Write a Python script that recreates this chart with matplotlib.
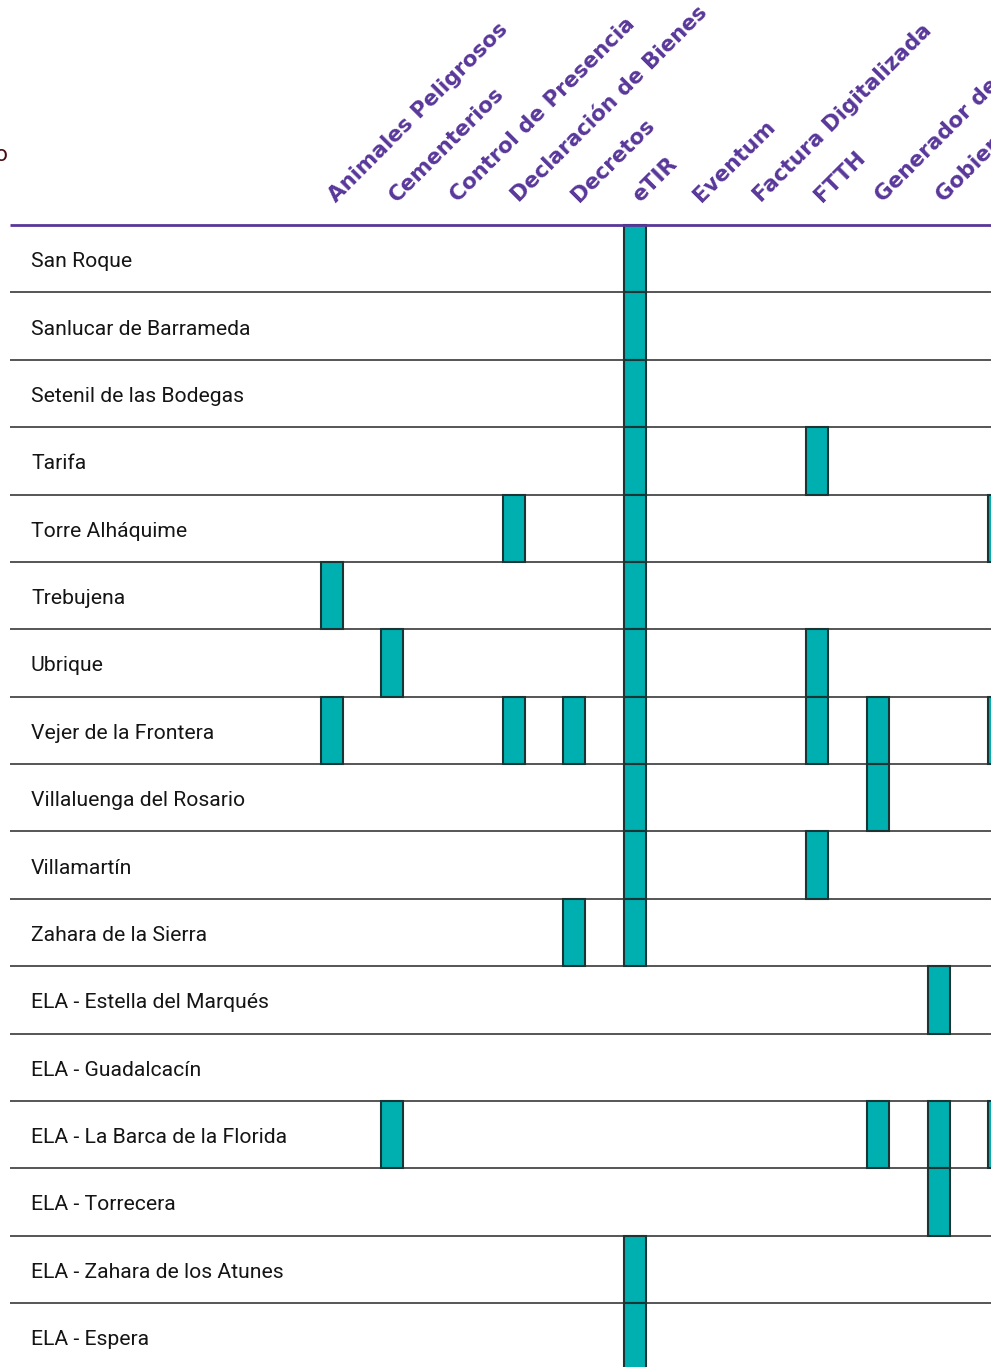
import matplotlib
matplotlib.use('Agg')
import matplotlib.pyplot as plt

# columns (header labels) - last ones are cut off in the reference
servicios = ['Animales Peligrosos', 'Cementerios', 'Control de Presencia',
             'Declaración de Bienes', 'Decretos', 'eTIR', 'Eventum',
             'Factura Digitalizada', 'FTTH', 'Generador de Documentos',
             'Gobierno Abierto', 'Inventario']

municipios = ['San Roque', 'Sanlucar de Barrameda', 'Setenil de las Bodegas',
              'Tarifa', 'Torre Alháquime', 'Trebujena', 'Ubrique',
              'Vejer de la Frontera', 'Villaluenga del Rosario', 'Villamartín',
              'Zahara de la Sierra', 'ELA - Estella del Marqués',
              'ELA - Guadalcacín', 'ELA - La Barca de la Florida',
              'ELA - Torrecera', 'ELA - Zahara de los Atunes', 'ELA - Espera']

# services in use per municipio
usos = {
    'San Roque': ['eTIR'],
    'Sanlucar de Barrameda': ['eTIR'],
    'Setenil de las Bodegas': ['eTIR'],
    'Tarifa': ['eTIR', 'FTTH'],
    'Torre Alháquime': ['Declaración de Bienes', 'eTIR', 'Inventario'],
    'Trebujena': ['Animales Peligrosos', 'eTIR'],
    'Ubrique': ['Cementerios', 'eTIR', 'FTTH'],
    'Vejer de la Frontera': ['Animales Peligrosos', 'Declaración de Bienes', 'Decretos',
                             'eTIR', 'FTTH', 'Generador de Documentos', 'Inventario'],
    'Villaluenga del Rosario': ['eTIR', 'Generador de Documentos'],
    'Villamartín': ['eTIR', 'FTTH'],
    'Zahara de la Sierra': ['Decretos', 'eTIR'],
    'ELA - Estella del Marqués': ['Gobierno Abierto'],
    'ELA - Guadalcacín': [],
    'ELA - La Barca de la Florida': ['Cementerios', 'Generador de Documentos',
                                     'Gobierno Abierto', 'Inventario'],
    'ELA - Torrecera': ['Gobierno Abierto'],
    'ELA - Zahara de los Atunes': ['eTIR'],
    'ELA - Espera': ['eTIR'],
}

W, H = 991, 1367
col0, col_step = 331.5, 60.7    # pixel centre of first column, spacing
top, row_h = 225, 67.375        # header line, row height

fig = plt.figure(figsize=(W / 100, H / 100), dpi=100)
ax = fig.add_axes([0, 0, 1, 1])
ax.set_xlim(-col0 / col_step, (W - col0) / col_step)
ax.set_ylim((H - top) / row_h - 0.5, -top / row_h - 0.5)
ax.axis('off')

purple = '#58379a'
teal = '#00b0b0'
px = 1 / col_step  # one pixel in x data units
py = 1 / row_h
x_left = (10 - col0) / col_step
x_right = ax.get_xlim()[1]

# row separators
for r in range(len(municipios)):
    ax.hlines(r + 0.5, x_left, x_right, color='#555555', lw=1.4, zorder=1)
ax.hlines(-0.5, x_left, x_right, color=purple, lw=2, zorder=3)

# cells
for r, m in enumerate(municipios):
    cols = [servicios.index(s) for s in usos[m]]
    ax.bar(cols, [1] * len(cols), bottom=r - 0.5, width=22 * px,
           color=teal, edgecolor='#1c3434', linewidth=1.5, zorder=2)
    ax.text((31 - col0) / col_step, r + 3 * py, m, fontsize=15.2, family='Roboto',
            color='#151515', va='center', ha='left')

# rotated headers
for c, s in enumerate(servicios):
    ax.text(c + 5 * px, -0.5 - 22 * py, s, rotation=45, rotation_mode='anchor',
            ha='left', va='baseline', fontsize=15.5, fontweight='bold',
            color=purple, family='DejaVu Sans', clip_on=False)

# cut off title on the left
fig.text(8 / W, 1 - 155 / H, 'Municipio', ha='right', va='center',
         fontsize=16, family='Roboto', color='#4a0c12')

fig.savefig('out.png', dpi=100)
